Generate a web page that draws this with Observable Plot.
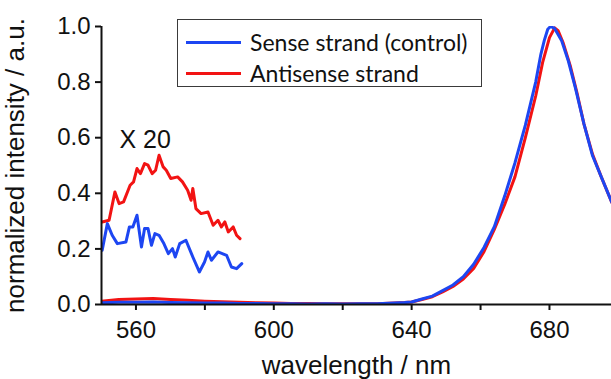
<!DOCTYPE html>
<html>
<head>
<meta charset="utf-8">
<script src="https://cdn.jsdelivr.net/npm/d3@7"></script>
<script src="https://cdn.jsdelivr.net/npm/@observablehq/plot@0.6"></script>
<style>
  html, body { margin: 0; padding: 0; background: #fff; }
  #wrap { position: relative; width: 611px; height: 379px; overflow: hidden; }
  #chart svg text { font-family: "Liberation Sans", Arial, Helvetica, sans-serif; }
  #legend { position: absolute; left: 177px; top: 19px; width: 305px; height: 68px;
    border: 1.5px solid #3a3a3a; box-sizing: border-box; font-family: Lato, "Open Sans", sans-serif; font-size: 23px; color: #111; }
  .row { position: absolute; left: 0; display: flex; align-items: center; }
  .sw { width: 55px; height: 3px; margin-left: 8px; margin-right: 9px; }
</style>
</head>
<body>
<div id="wrap">
  <div id="chart"></div>
  <div id="legend"></div>
</div>
<script>
// series names and colours
const seriesNames = ["Sense strand (control)", "Antisense strand"];
const seriesColors = ["#1d46f2", "#f21313"];

// main spectra (normalized intensity vs wavelength, nm)
const senseWl = [550, 555, 560, 565, 570, 575, 580, 585, 590, 595, 600, 605, 610, 615, 620, 625, 630, 635, 638, 640, 643, 646, 649, 652, 655, 658, 661, 664, 667, 670, 673, 676, 677.5, 678.5, 679.5, 680.3, 681.5, 683.5, 685.5, 687.5, 690, 692.5, 695, 698, 700];
const senseVal = [0.006, 0.008, 0.008, 0.009, 0.007, 0.006, 0.005, 0.005, 0.004, 0.004, 0.003, 0.003, 0.002, 0.003, 0.002, 0.003, 0.003, 0.005, 0.007, 0.009, 0.02, 0.03, 0.05, 0.07, 0.1, 0.145, 0.205, 0.28, 0.39, 0.51, 0.645, 0.8, 0.9, 0.95, 0.99, 1.0, 0.993, 0.95, 0.875, 0.78, 0.65, 0.535, 0.46, 0.37, 0.32];
const antiWl = [550, 555, 560, 565, 570, 575, 580, 585, 590, 595, 600, 605, 610, 615, 620, 625, 630, 635, 638, 640, 643, 646, 649, 652, 655, 658, 661, 664, 667, 670, 673, 676, 678, 680, 681.5, 682.5, 684, 686, 688, 690, 692.5, 695, 698, 700];
const antiVal = [0.012, 0.018, 0.02, 0.022, 0.018, 0.015, 0.012, 0.01, 0.008, 0.006, 0.005, 0.004, 0.004, 0.003, 0.003, 0.003, 0.003, 0.005, 0.007, 0.009, 0.018, 0.028, 0.045, 0.065, 0.092, 0.13, 0.19, 0.27, 0.36, 0.46, 0.6, 0.75, 0.87, 0.96, 0.995, 0.985, 0.94, 0.86, 0.76, 0.65, 0.54, 0.46, 0.37, 0.32];

// x20 magnified region
const senseZoomWl = [550.2, 551.7, 553.1, 554.6, 557.1, 558.1, 559.1, 560.3, 561.6, 562.5, 563.5, 564.5, 565.5, 566.7, 568.1, 569.4, 570.6, 571.4, 572.7, 574.5, 576.5, 578.4, 579.9, 580.9, 581.9, 583.8, 586.3, 587.7, 589.2, 590.7];
const senseZoomVal = [0.195, 0.291, 0.249, 0.219, 0.225, 0.279, 0.279, 0.321, 0.207, 0.273, 0.273, 0.213, 0.255, 0.249, 0.219, 0.183, 0.201, 0.171, 0.219, 0.231, 0.171, 0.117, 0.153, 0.189, 0.159, 0.189, 0.177, 0.135, 0.129, 0.147];
const antiZoomWl = [550.2, 552.2, 553.9, 555.1, 556.4, 558.3, 559.3, 560.3, 561.3, 562.5, 563.5, 564.7, 565.7, 566.7, 567.9, 568.8, 570.1, 572.1, 573.5, 575.0, 576.0, 576.5, 577.4, 578.9, 580.9, 582.4, 583.8, 584.8, 585.8, 586.8, 588.2, 589.2, 590.2];
const antiZoomVal = [0.297, 0.303, 0.405, 0.363, 0.369, 0.429, 0.441, 0.489, 0.471, 0.507, 0.501, 0.471, 0.483, 0.537, 0.495, 0.483, 0.453, 0.459, 0.441, 0.411, 0.375, 0.417, 0.345, 0.327, 0.333, 0.285, 0.303, 0.279, 0.297, 0.261, 0.279, 0.249, 0.237];

// annotation
const zoomLabel = ["X 20"];
const zoomLabelPos = [{x: 555.2, y: 0.562}];

// axes
const xTicks = [560, 580, 600, 620, 640, 660, 680];
const xLabeled = [560, 600, 640, 680];
const yTicks = [0, 0.2, 0.4, 0.6, 0.8, 1.0];

const mk = (w, v) => w.map((d, i) => ({x: d, y: v[i]}));
const sense = mk(senseWl, senseVal);
const anti = mk(antiWl, antiVal);
const senseZ = mk(senseZoomWl, senseZoomVal);
const antiZ = mk(antiZoomWl, antiZoomVal);

const FF = '"Liberation Sans", Arial, sans-serif';
const lw = 3;
const chart = Plot.plot({
  width: 611,
  height: 379,
  marginLeft: 101,
  marginRight: 0,
  marginTop: 26,
  marginBottom: 75,
  style: {fontFamily: FF, fontSize: "24px", color: "#111", background: "#fff"},
  x: {domain: [550, 698]},
  y: {domain: [0, 1]},
  marks: [
    Plot.line(anti, {x: "x", y: "y", stroke: seriesColors[1], strokeWidth: lw, clip: true}),
    Plot.line(sense, {x: "x", y: "y", stroke: seriesColors[0], strokeWidth: lw, clip: true}),
    Plot.line(antiZ, {x: "x", y: "y", stroke: seriesColors[1], strokeWidth: lw, clip: true}),
    Plot.line(senseZ, {x: "x", y: "y", stroke: seriesColors[0], strokeWidth: lw, clip: true}),
    Plot.text(zoomLabelPos, {x: "x", y: "y", text: (d, i) => zoomLabel[i], textAnchor: "start", lineAnchor: "bottom", fontSize: 25, fontFamily: FF, fill: "#111"}),
    Plot.axisX({ticks: xTicks, tickFormat: d => xLabeled.includes(d) ? String(d) : "", tickSize: 6, tickPadding: 10, strokeWidth: 2, fontSize: 24, fontFamily: FF, label: null}),
    Plot.axisY({ticks: yTicks, tickFormat: d3.format(".1f"), tickSize: 6, tickPadding: 5, strokeWidth: 2, fontSize: 24, fontFamily: FF, label: null}),
    Plot.ruleY([0], {stroke: "#111", strokeWidth: 2}),
    Plot.ruleX([550], {stroke: "#111", strokeWidth: 2}),
    Plot.text(["wavelength / nm"], {frameAnchor: "bottom", dy: 69, fontSize: 26, fontFamily: FF, fill: "#111"}),
    Plot.text(["normalized intensity / a.u."], {frameAnchor: "left", textAnchor: "middle", dx: -86, rotate: -90, fontSize: 26, fontFamily: FF, fill: "#111"})
  ]
});
document.getElementById("chart").appendChild(chart);

const legend = document.getElementById("legend");
seriesNames.forEach((name, i) => {
  const row = document.createElement("div");
  row.className = "row";
  row.style.top = (i === 0 ? 8 : 39) + "px";
  const sw = document.createElement("div");
  sw.className = "sw";
  sw.style.background = seriesColors[i];
  const t = document.createElement("span");
  t.textContent = name;
  row.appendChild(sw); row.appendChild(t);
  legend.appendChild(row);
});
</script>
</body>
</html>
